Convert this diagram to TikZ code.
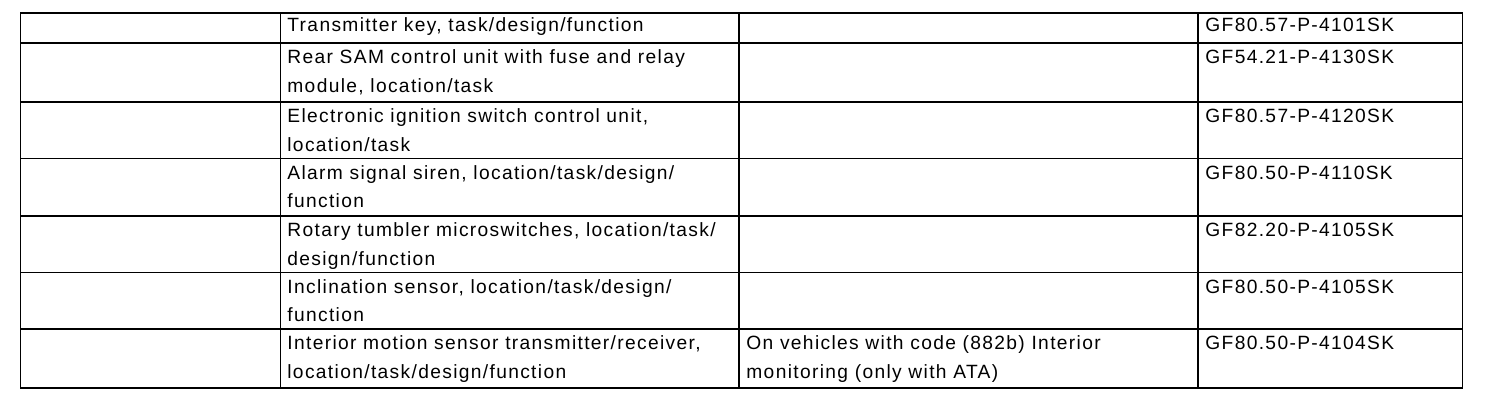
\documentclass[tikz,border=0pt]{standalone}
\usepackage{fontspec}
\setmainfont{Liberation Sans}[LetterSpace=7]

% 两行文字, 基线取第一行
\newcommand{\twolines}[2]{\vtop{\hbox{#1}\hbox{#2}}}

\tikzset{
    cell/.style={anchor=base west, inner sep=0pt,
        font=\fontsize{9.6pt}{14.25pt}\selectfont},
    rule/.style={line width=0.75pt, line cap=rect}
}

\begin{document}
\begin{tikzpicture}[x=0.5pt, y=-0.5pt]
            \useasboundingbox (0,0) rectangle (1504,402);

            % 画表格横线
            \foreach \y in {13,43,102,158.5,216,272.5,329,388} {
                \draw[rule] (20.5,\y) -- (1462.5,\y);
            }
            % 画表格竖线
            \foreach \x in {20.5,280.5,739,1198,1462.5} {
                \draw[rule] (\x,13) -- (\x,388);
            }

            % 第2列: 名称
            \node[cell] (name1) at (287,31.5) {Transmitter key, task/design/function};
            \node[cell] (name2) at (287,63.5) {\twolines{Rear SAM control unit with fuse and relay}{module, location/task}};
            \node[cell] (name3) at (287,122.5) {\twolines{Electronic ignition switch control unit,}{location/task}};
            \node[cell] (name4) at (287,179) {\twolines{Alarm signal siren, location/task/design/}{function}};
            \node[cell] (name5) at (287,236.5) {\twolines{Rotary tumbler microswitches, location/task/}{design/function}};
            \node[cell] (name6) at (287,293) {\twolines{Inclination sensor, location/task/design/}{function}};
            \node[cell] (name7) at (287,349.5) {\twolines{Interior motion sensor transmitter/receiver,}{location/task/design/function}};

            % 第3列: 备注
            \node[cell] (note7) at (746,349.5) {\twolines{On vehicles with code (882b) Interior}{monitoring (only with ATA)}};

            % 第4列: 文档号
            \node[cell] (doc1) at (1205,31.5) {GF80.57-P-4101SK};
            \node[cell] (doc2) at (1205,63.5) {GF54.21-P-4130SK};
            \node[cell] (doc3) at (1205,122.5) {GF80.57-P-4120SK};
            \node[cell] (doc4) at (1205,179) {GF80.50-P-4110SK};
            \node[cell] (doc5) at (1205,236.5) {GF82.20-P-4105SK};
            \node[cell] (doc6) at (1205,293) {GF80.50-P-4105SK};
            \node[cell] (doc7) at (1205,349.5) {GF80.50-P-4104SK};
\end{tikzpicture}
\end{document}
